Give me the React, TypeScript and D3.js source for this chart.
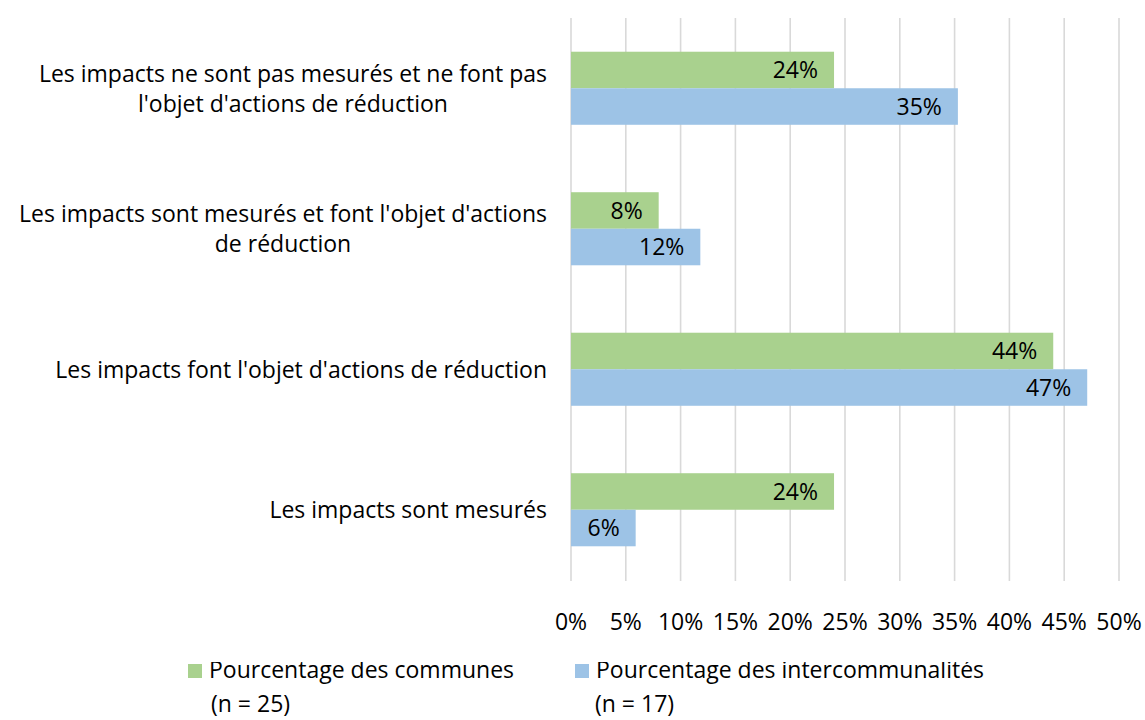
import React, { useEffect, useRef } from "react";
import * as d3 from "d3";

const categories = [
  ["Les impacts ne sont pas mesurés et ne font pas", "l'objet d'actions de réduction"],
  ["Les impacts sont mesurés et font l'objet d'actions", "de réduction"],
  ["Les impacts font l'objet d'actions de réduction"],
  ["Les impacts sont mesurés"],
];
const communes = [24, 8, 44, 24];
const intercos = [35.3, 11.8, 47.1, 5.9];
const xTicks = [0, 5, 10, 15, 20, 25, 30, 35, 40, 45, 50];
const seriesNames = [
  ["Pourcentage des communes", "(n = 25)"],
  ["Pourcentage des intercommunalités", "(n = 17)"],
];
const colors = ["#a9d18e", "#9dc3e6"];

const FONT = "'Open Sans', sans-serif";
const FS = 23;

const App = () => {
  const svgRef = useRef(null);

  useEffect(() => {
    document.body.style.margin = "0";
    const svg = d3.select(svgRef.current);
    svg.selectAll("*").remove();

    const left = 571;
    const right = 1119;
    const top = 18;
    const bottom = 580;

    const x = d3.scaleLinear().domain([0, 50]).range([left, right]);
    const y = d3
      .scaleBand()
      .domain(categories.map((d, i) => String(i)))
      .range([top, bottom])
      .paddingInner(0.48)
      .paddingOuter(0.24);
    const sub = d3.scaleBand().domain(["0", "1"]).range([0, y.bandwidth()]);

    // gridlines
    svg
      .append("g")
      .selectAll("line")
      .data(xTicks)
      .enter()
      .append("line")
      .attr("x1", (d) => x(d))
      .attr("x2", (d) => x(d))
      .attr("y1", top)
      .attr("y2", bottom + 1)
      .attr("stroke", "#d9d9d9")
      .attr("stroke-width", 1.6);

    // tick labels
    svg
      .append("g")
      .selectAll("text")
      .data(xTicks)
      .enter()
      .append("text")
      .attr("x", (d) => x(d))
      .attr("y", 622)
      .attr("dy", "0.36em")
      .attr("text-anchor", "middle")
      .attr("font-family", FONT)
      .attr("font-size", FS)
      .attr("fill", "#000")
      .text((d) => d + "%");

    const series = [communes, intercos];
    series.forEach((vals, s) => {
      const g = svg.append("g");
      g.selectAll("rect")
        .data(vals)
        .enter()
        .append("rect")
        .attr("x", x(0))
        .attr("y", (d, i) => y(String(i)) + sub(String(s)))
        .attr("width", (d) => x(d) - x(0))
        .attr("height", sub.bandwidth())
        .attr("fill", colors[s]);
      g.selectAll("text")
        .data(vals)
        .enter()
        .append("text")
        .attr("x", (d) => x(d) - 16)
        .attr("y", (d, i) => y(String(i)) + sub(String(s)) + sub.bandwidth() / 2)
        .attr("dy", "0.36em")
        .attr("text-anchor", "end")
        .attr("font-family", FONT)
        .attr("font-size", FS)
        .attr("fill", "#000")
        .text((d) => Math.round(d) + "%");
    });

    // category labels, lines centered in a block right-aligned at 547
    categories.forEach((lines, i) => {
      const cy = y(String(i)) + y.bandwidth() / 2;
      const g = svg.append("g");
      const texts = lines.map((line, j) =>
        g
          .append("text")
          .attr("y", cy + (j - (lines.length - 1) / 2) * 30)
          .attr("dy", "0.36em")
          .attr("text-anchor", "middle")
          .attr("font-family", FONT)
          .attr("font-size", FS)
          .attr("fill", "#000")
          .text(line)
      );
      const widths = texts.map((t) => (t.node() as SVGTextElement).getComputedTextLength());
      const maxW = d3.max(widths) || 0;
      texts.forEach((t) => t.attr("x", 547 - maxW / 2));
    });

    // legend (first line is slightly cut at its top in the original)
    svg
      .append("clipPath")
      .attr("id", "legend-clip")
      .append("rect")
      .attr("x", 0)
      .attr("y", 662)
      .attr("width", 1145)
      .attr("height", 58);
    const legendX = [188, 575];
    const legendSub = [211, 595];
    seriesNames.forEach((names, s) => {
      const g = svg.append("g");
      g.append("rect")
        .attr("x", legendX[s])
        .attr("y", 664)
        .attr("width", 14)
        .attr("height", 14)
        .attr("fill", colors[s]);
      g.append("text")
        .attr("x", legendX[s] + 21)
        .attr("y", 678)
        .attr("clip-path", "url(#legend-clip)")
        .attr("font-family", FONT)
        .attr("font-size", FS)
        .attr("fill", "#000")
        .text(names[0]);
      g.append("text")
        .attr("x", legendSub[s])
        .attr("y", 712)
        .attr("font-family", FONT)
        .attr("font-size", FS)
        .attr("fill", "#000")
        .text(names[1]);
    });
  }, []);

  return <svg ref={svgRef} width={1145} height={720} style={{ display: "block", background: "#fff" }} />;
};

export default App;
